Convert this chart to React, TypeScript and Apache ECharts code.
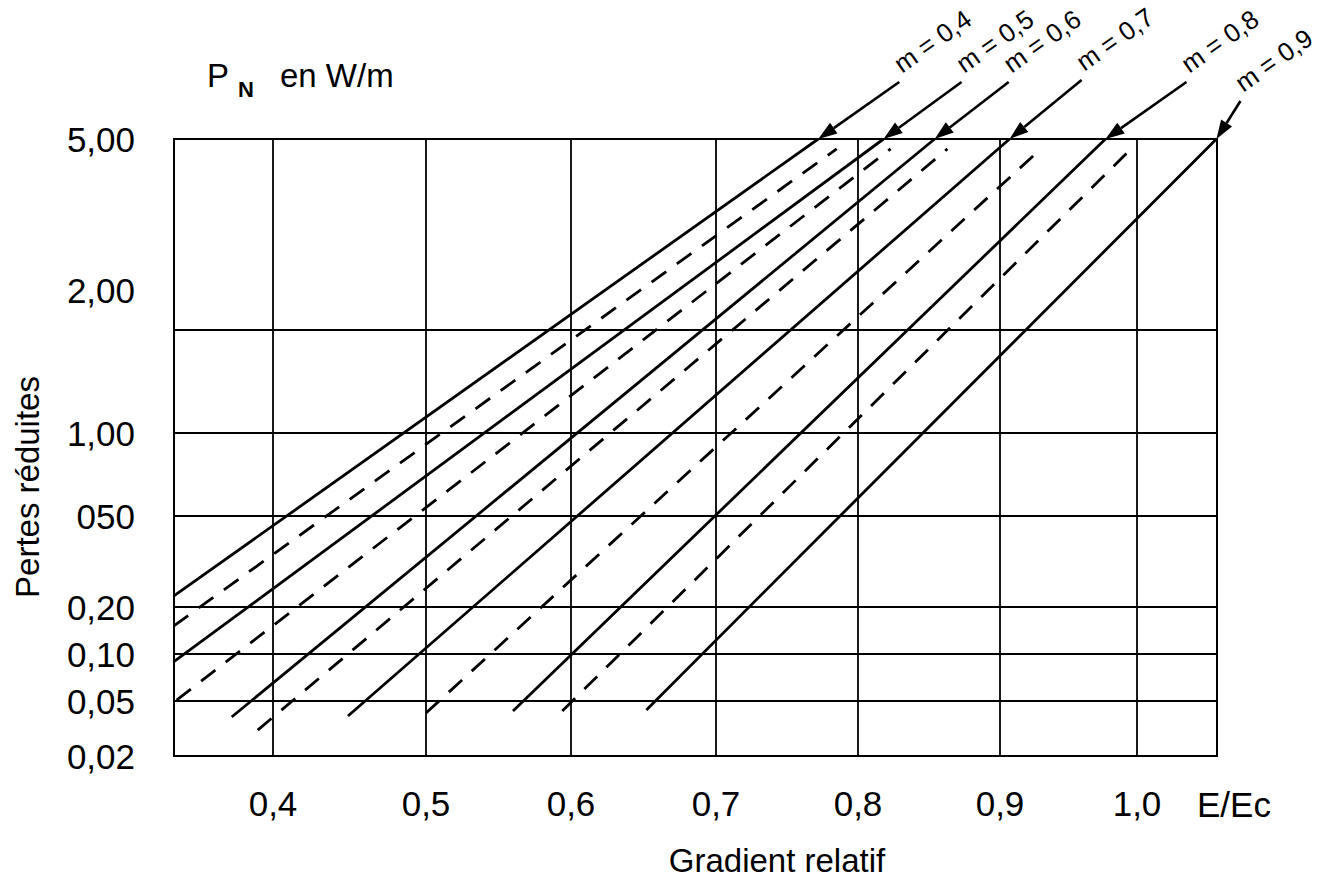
import React, { useEffect, useRef } from 'react';
import * as echarts from 'echarts';

// ---------- X axis: relative gradient E/Ec ----------
const X_GRID_VALUES = [0.4, 0.5, 0.6, 0.7, 0.8, 0.9, 1.0];
const X_GRID_LABELS = ['0,4', '0,5', '0,6', '0,7', '0,8', '0,9', '1,0'];
// drawing scale of the original chart (slightly non-uniform): value -> axis position
const X_SCALE_VALUES = [0.3353, 0.4, 0.5, 0.6, 0.7, 0.8, 0.9, 1.0, 1.0584];
const X_SCALE_POS = [0, 99, 252, 397, 542, 684, 826, 963, 1043];

// ---------- Y axis: reduced losses P_N (W/m) ----------
const Y_LABEL_VALUES = [5, 2, 1, 0.5, 0.2, 0.1, 0.05, 0.02];
const Y_LABELS = ['5,00', '2,00', '1,00', '050', '0,20', '0,10', '0,05', '0,02'];
const Y_SCALE_POS = [617, 466, 323, 240, 149, 102, 55, 0];
const Y_GRID_VALUES = [1.65, 1, 0.5, 0.2, 0.1, 0.05];

// ---------- Curves ----------
const M_LABELS = ['m = 0,4', 'm = 0,5', 'm = 0,6', 'm = 0,7', 'm = 0,8', 'm = 0,9'];
const SOLID_X = [
  [0.335, 0.772],
  [0.335, 0.818],
  [0.373, 0.854],
  [0.449, 0.907],
  [0.56, 0.977],
  [0.652, 1.058],
];
const SOLID_Y = [
  [0.223, 5],
  [0.089, 5],
  [0.0383, 5],
  [0.0389, 5],
  [0.0424, 5],
  [0.0431, 5],
];
const DASHED_X = [
  [0.335, 0.785],
  [0.337, 0.823],
  [0.39, 0.863],
  [0.5, 0.929],
  [0.594, 0.995],
];
const DASHED_Y = [
  [0.151, 4.71],
  [0.0507, 4.71],
  [0.0308, 4.71],
  [0.0409, 4.68],
  [0.0424, 4.68],
];

const FONT = "'Liberation Sans', Arial, sans-serif";

function interp(v: number, xs: number[], ys: number[]): number {
  const n = xs.length;
  const asc = xs[n - 1] > xs[0];
  for (let i = 0; i < n - 1; i++) {
    const a = xs[i];
    const b = xs[i + 1];
    const inside = asc ? v >= a && v <= b : v <= a && v >= b;
    if (inside) return ys[i] + ((v - a) / (b - a)) * (ys[i + 1] - ys[i]);
  }
  if ((asc && v < xs[0]) || (!asc && v > xs[0])) {
    return ys[0] + ((v - xs[0]) / (xs[1] - xs[0])) * (ys[1] - ys[0]);
  }
  return ys[n - 2] + ((v - xs[n - 2]) / (xs[n - 1] - xs[n - 2])) * (ys[n - 1] - ys[n - 2]);
}

const xPos = (v: number) => interp(v, X_SCALE_VALUES, X_SCALE_POS);
const Y_LOGS = Y_LABEL_VALUES.map((v) => Math.log10(v));
const yPos = (v: number) => interp(Math.log10(v), Y_LOGS, Y_SCALE_POS);

const X_MAX = xPos(X_SCALE_VALUES[X_SCALE_VALUES.length - 1]);
const Y_MAX = yPos(Y_LABEL_VALUES[0]);

function lookup(v: number, positions: number[], labels: string[]): string {
  for (let i = 0; i < positions.length; i++) {
    if (Math.abs(positions[i] - v) < 0.5) return labels[i];
  }
  return '';
}

// annotation arrow layout (pixels relative to the tip)
const ARROW_DX = [81, 78, 74, 72, 81, 24];
const ARROW_DY = [-57, -57, -57, -59, -57, -38];

export default function App() {
  const ref = useRef<HTMLDivElement>(null);

  useEffect(() => {
    if (!ref.current) return;
    const chart = echarts.init(ref.current, undefined, { renderer: 'svg' });

    const xLabelPos = X_GRID_VALUES.map(xPos);
    const yLabelPos = Y_LABEL_VALUES.map(yPos);

    const series: any[] = [];
    SOLID_X.forEach((xs, i) => {
      series.push({
        type: 'line',
        name: M_LABELS[i],
        data: xs.map((x, j) => [xPos(x), yPos(SOLID_Y[i][j])]),
        showSymbol: false,
        symbol: 'none',
        silent: true,
        lineStyle: { color: '#000', width: 2.8, type: 'solid' },
        z: 3,
      });
    });
    DASHED_X.forEach((xs, i) => {
      series.push({
        type: 'line',
        name: 'intermediaire ' + (i + 1),
        data: xs.map((x, j) => [xPos(x), yPos(DASHED_Y[i][j])]),
        showSymbol: false,
        symbol: 'none',
        silent: true,
        lineStyle: { color: '#000', width: 2.8, type: [18, 13] },
        z: 3,
      });
    });
    // grid lines
    series.push({
      type: 'line',
      name: 'grid',
      data: [],
      silent: true,
      markLine: {
        silent: true,
        symbol: ['none', 'none'],
        label: { show: false },
        lineStyle: { color: '#000', width: 1.8, type: 'solid' },
        emphasis: { disabled: true },
        data: [
          ...X_GRID_VALUES.map((v) => ({ xAxis: xPos(v) })),
          ...Y_GRID_VALUES.map((v) => ({ yAxis: yPos(v) })),
        ],
      },
      z: 2,
    });

    chart.setOption({
      animation: false,
      backgroundColor: '#fff',
      grid: {
        left: 174,
        top: 139,
        right: 114,
        bottom: 131,
        show: true,
        borderColor: '#000',
        borderWidth: 2,
        containLabel: false,
      },
      xAxis: {
        type: 'value',
        min: 0,
        max: X_MAX,
        splitLine: { show: false },
        axisLine: { show: false },
        axisTick: { show: false },
        axisLabel: {
          customValues: xLabelPos,
          formatter: (v: number) => lookup(v, xLabelPos, X_GRID_LABELS),
          color: '#000',
          fontSize: 35,
          fontFamily: FONT,
          margin: 30,
        },
      },
      yAxis: {
        type: 'value',
        min: 0,
        max: Y_MAX,
        splitLine: { show: false },
        axisLine: { show: false },
        axisTick: { show: false },
        axisLabel: {
          customValues: yLabelPos,
          formatter: (v: number) => lookup(v, yLabelPos, Y_LABELS),
          color: '#000',
          fontSize: 35,
          fontFamily: FONT,
          margin: 39,
        },
      },
      series,
    });

    const graphics: any[] = [];
    SOLID_X.forEach((xs, i) => {
      const tip = chart.convertToPixel({ gridIndex: 0 }, [xPos(xs[1]), yPos(SOLID_Y[i][1])]) as number[];
      const tail = [tip[0] + ARROW_DX[i], tip[1] + ARROW_DY[i]];
      const len = Math.hypot(ARROW_DX[i], ARROW_DY[i]);
      const ux = ARROW_DX[i] / len;
      const uy = ARROW_DY[i] / len;
      const headLen = 19;
      const half = 6.5;
      const bx = tip[0] + ux * headLen;
      const by = tip[1] + uy * headLen;
      graphics.push({
        type: 'line',
        silent: true,
        shape: { x1: tail[0], y1: tail[1], x2: bx, y2: by },
        style: { stroke: '#000', lineWidth: 2.6 },
      });
      graphics.push({
        type: 'polygon',
        silent: true,
        shape: {
          points: [
            [tip[0], tip[1]],
            [bx - uy * half, by + ux * half],
            [bx + uy * half, by - ux * half],
          ],
        },
        style: { fill: '#000' },
      });
      graphics.push({
        type: 'text',
        silent: true,
        x: tail[0] + 5,
        y: tail[1] - 5,
        rotation: (35 * Math.PI) / 180,
        style: {
          text: M_LABELS[i],
          fill: '#000',
          fontSize: 26,
          fontFamily: FONT,
          align: 'left',
          verticalAlign: 'bottom',
        },
      });
    });

    graphics.push(
      {
        type: 'text',
        silent: true,
        x: 207,
        y: 75,
        style: { text: 'P', fill: '#000', fontSize: 33, fontFamily: FONT, align: 'left', verticalAlign: 'middle' },
      },
      {
        type: 'text',
        silent: true,
        x: 238,
        y: 89,
        style: { text: 'N', fill: '#000', fontSize: 22, fontWeight: 'bold', fontFamily: FONT, align: 'left', verticalAlign: 'middle' },
      },
      {
        type: 'text',
        silent: true,
        x: 280,
        y: 75,
        style: { text: 'en W/m', fill: '#000', fontSize: 33, fontFamily: FONT, align: 'left', verticalAlign: 'middle' },
      },
      {
        type: 'text',
        silent: true,
        x: 27,
        y: 487,
        rotation: Math.PI / 2,
        style: { text: 'Pertes réduites', fill: '#000', fontSize: 33, fontFamily: FONT, align: 'center', verticalAlign: 'middle' },
      },
      {
        type: 'text',
        silent: true,
        x: 777,
        y: 860,
        style: { text: 'Gradient relatif', fill: '#000', fontSize: 33, fontFamily: FONT, align: 'center', verticalAlign: 'middle' },
      },
      {
        type: 'text',
        silent: true,
        x: 1197,
        y: 804,
        style: { text: 'E/Ec', fill: '#000', fontSize: 35, fontFamily: FONT, align: 'left', verticalAlign: 'middle' },
      }
    );

    chart.setOption({ graphic: graphics });

    return () => chart.dispose();
  }, []);

  return (
    <div
      ref={ref}
      style={{ position: 'fixed', left: 0, top: 0, width: '100vw', height: '100vh', background: '#fff' }}
    />
  );
}
